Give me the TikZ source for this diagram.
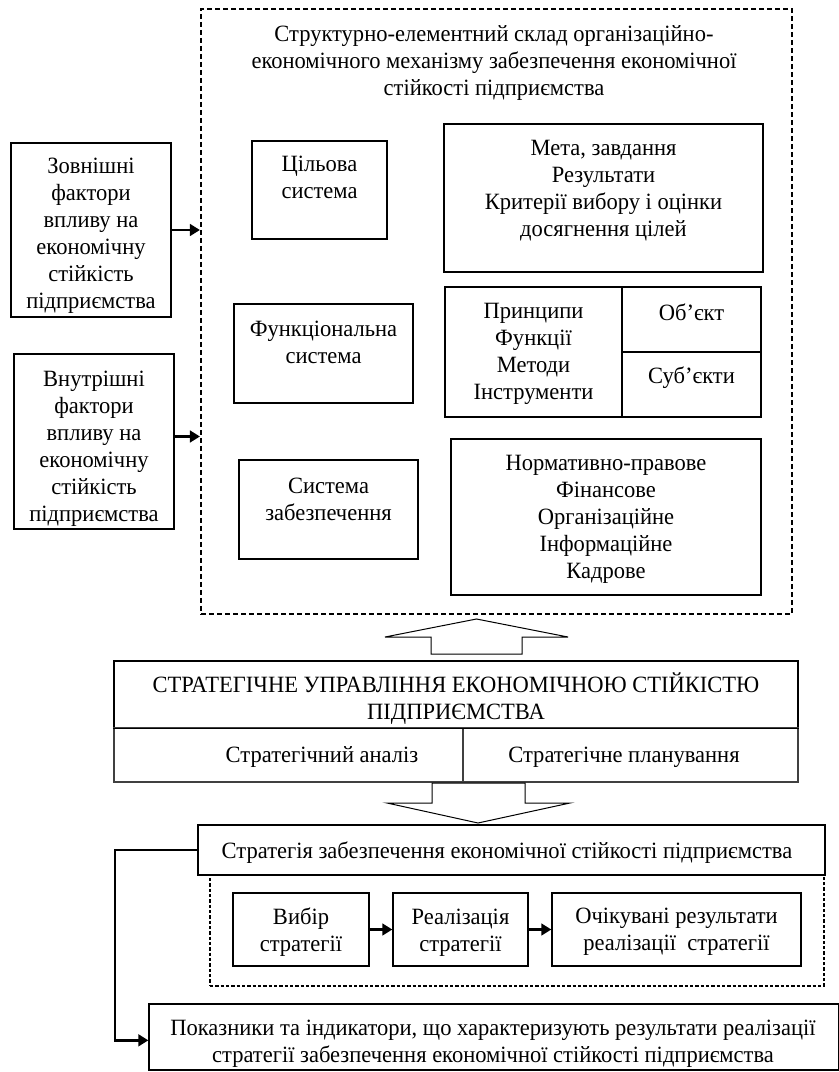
\documentclass[tikz,border=0pt]{standalone}
\usepackage{fontspec}
\setmainfont{Liberation Serif}
\newfontfamily\bodyserif[FakeStretch=0.965]{Liberation Serif}
\usetikzlibrary{arrows.meta,fit,calc}

\tikzset{
  box/.style={draw, line width=0.8pt, inner sep=0pt, fill=white},
  cell/.style={draw=black!75, line width=0.7pt, inner sep=0pt, fill=white},
  txt/.style={inner sep=0pt, align=center, yshift=-3pt,
    execute at begin node=\strut, execute at end node=\strut},
  outerdash/.style={draw, line width=1.3pt, dash pattern=on 3pt off 1.8pt, inner sep=0pt},
  innerdash/.style={draw, line width=0.7pt, dash pattern=on 2pt off 1.2pt, inner sep=0pt},
  conn/.style={line width=1.6pt, -{Triangle[length=6pt,width=7pt]}},
  hollow/.style={draw, line width=0.6pt, fill=white},
}

\begin{document}
\begin{tikzpicture}[x=0.6pt, y=-0.6pt, font=\bodyserif\fontsize{14}{16.2}\selectfont]
\useasboundingbox (0,0) rectangle (838,1072);

% ---- organisational-economic mechanism (dashed frame) ----
\node[outerdash, fit={(201,9) (792,614)}] (mech) {};
\node[txt] (mechtitle) at (494,59.7) {Структурно-елементний склад організаційно-\\
економічного механізму забезпечення економічної\\стійкості підприємства};

% subsystems
\node[box, fit={(252,141) (387,239)}] (goal) {};
\node[txt] (goalt) at (319.5,176.5) {Цільова\\система};
\node[box, fit={(234,304) (413,403)}] (func) {};
\node[txt] (funct) at (323.5,341.5) {Функціональна\\система};
\node[box, fit={(239,460) (418,559)}] (supp) {};
\node[txt] (suppt) at (328.5,498) {Система\\забезпечення};

% contents of the subsystems
\node[box, fit={(444,124) (763,272)}] (goals) {};
\node[txt] (goalst) at (603.5,187.5) {Мета, завдання\\Результати\\Критерії вибору і оцінки\\досягнення цілей};
\node[box, fit={(445,287) (622,417)}] (princ) {};
\node[txt] (princt) at (533.5,350.5) {Принципи\\Функції\\Методи\\Інструменти};
\node[box, fit={(622,287) (761,352)}] (obj) {};
\node[txt] (objt) at (691.5,310) {Об’єкт};
\node[box, fit={(622,352) (761,417)}] (subj) {};
\node[txt] (subjt) at (691.5,373) {Суб’єкти};
\node[box, fit={(451,439) (761,595)}] (norm) {};
\node[txt] (normt) at (606,515.5) {Нормативно-правове\\Фінансове\\Організаційне\\Інформаційне\\Кадрове};

% external and internal factors
\node[box, fit={(11,143) (171,317)}] (ext) {};
\node[txt] (extt) at (91,232.5) {Зовнішні\\фактори\\впливу на\\економічну\\стійкість\\підприємства};
\node[box, fit={(14,354) (174,529)}] (int) {};
\node[txt] (intt) at (94,445) {Внутрішні\\фактори\\впливу на\\економічну\\стійкість\\підприємства};
\draw[conn] (ext.east) -- (ext.east -| mech.west);
\draw[conn] ([yshift=3pt]int.east) -- ([yshift=3pt]int.east -| mech.west);

% ---- strategic management ----
\node[box, fit={(114,661) (798,728)}] (sm) {};
\node[txt] (smt) at (456,695) {СТРАТЕГІЧНЕ УПРАВЛІННЯ ЕКОНОМІЧНОЮ СТІЙКІСТЮ\\ПІДПРИЄМСТВА};
\node[cell, fit={(114,728) (463,782)}] (sa) {};
\node[cell, fit={(463,728) (798,782)}] (sp) {};
\draw[line width=0.8pt] (sm.south west) -- (sm.south east);
\node[txt] (sat) at (322,752) {Стратегічний аналіз};
\node[txt] (spt) at (624,752) {Стратегічне планування};

% block arrows
\draw[hollow] (476.5,619) -- (568,637) -- (522,637) -- (522,654) -- (431,654)
  -- (431,637) -- (385,637) -- cycle;
\draw[hollow] (478,823) -- (570,803) -- (525,803) -- (525,783) -- (432,783)
  -- (432,803) -- (387,803) -- cycle;

% ---- strategy ----
\node[innerdash, fit={(210,850) (824,986)}] (stratgrp) {};
\node[box, fit={(198,825) (825,875)}] (strat) {};
\node[txt] (stratt) at (507,848) {Стратегія забезпечення економічної стійкості підприємства};

\node[box, fit={(233,893) (369,966)}] (choice) {};
\node[txt] (choicet) at (301,929) {Вибір\\стратегії};
\node[box, fit={(393,893) (528,966)}] (impl) {};
\node[txt] (implt) at (460.5,929) {Реалізація\\стратегії};
\node[box, fit={(552,893) (801,966)}] (expect) {};
\node[txt] (expectt) at (676.5,928.5) {Очікувані результати\\реалізації~ стратегії};
\draw[conn] (choice.east) -- (impl.west);
\draw[conn] (impl.east) -- (expect.west);

\node[box, fit={(149,1004) (839,1070)}] (indic) {};
\node[txt, yshift=3pt] (indict) at (493,1045) {Показники та індикатори, що характеризують результати реалізації\\стратегії забезпечення економічної стійкості підприємства};

\coordinate (fb) at (115,850);
\draw[conn] (strat.west) -- (fb) |- ([yshift=-2pt]indic.west);
\end{tikzpicture}
\end{document}
